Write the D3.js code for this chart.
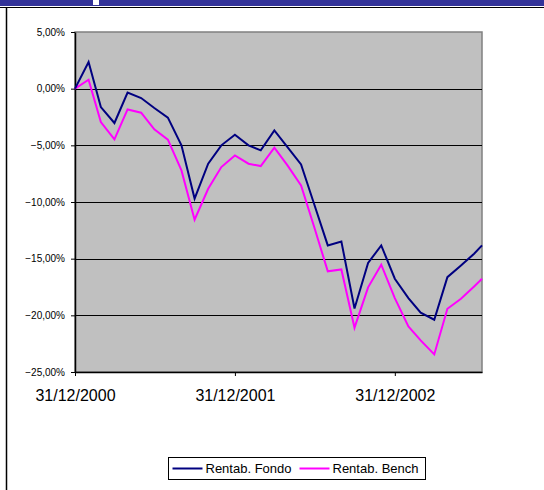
<!DOCTYPE html>
<html>
<head>
<meta charset="utf-8">
<script src="https://cdn.jsdelivr.net/npm/d3@7"></script>
<style>
    body { margin: 0; background: #fff; }
    svg { display: block; font-family: "Liberation Sans", Arial, sans-serif; }
</style>
</head>
<body>
<svg id="chart" width="544" height="490"></svg>
<script>
// month-end dates, last one is a mid-month value
const dates = [
    "2000-12-31", "2001-01-31", "2001-02-28", "2001-03-31", "2001-04-30", "2001-05-31",
    "2001-06-30", "2001-07-31", "2001-08-31", "2001-09-30", "2001-10-31", "2001-11-30",
    "2001-12-31", "2002-01-31", "2002-02-28", "2002-03-31", "2002-04-30", "2002-05-31",
    "2002-06-30", "2002-07-31", "2002-08-31", "2002-09-30", "2002-10-31", "2002-11-30",
    "2002-12-31", "2003-01-31", "2003-02-28", "2003-03-31", "2003-04-30", "2003-05-31",
    "2003-06-30", "2003-07-18"
];
const fondo = [
    0, 2.35, -1.62, -3.03, -0.35, -0.83, -1.71, -2.56, -5.0, -9.7, -6.62, -5.0,
    -4.06, -5.0, -5.44, -3.68, -5.15, -6.68, -10.2, -13.83, -13.48, -19.4, -15.38, -13.83,
    -16.77, -18.48, -19.77, -20.39, -16.63, -15.6, -14.56, -13.83
];
const bench = [
    0, 0.79, -2.95, -4.47, -1.83, -2.12, -3.59, -4.5, -7.21, -11.56, -8.83, -6.92,
    -5.89, -6.62, -6.83, -5.21, -6.77, -8.53, -12.21, -16.12, -15.95, -21.09, -17.53, -15.53,
    -18.48, -20.98, -22.21, -23.45, -19.42, -18.54, -17.45, -16.77
];
const seriesNames = ["Rentab. Fondo", "Rentab. Bench"];
const seriesColors = ["#000080", "#FF00FF"];
const yTicks = [5, 0, -5, -10, -15, -20, -25];
const xTicks = ["2000-12-31", "2001-12-31", "2002-12-31"];

const svg = d3.select("#chart");
const parseDate = d3.timeParse("%Y-%m-%d");
const fmtDate = d3.timeFormat("%d/%m/%Y");
const fmtPct = v => d3.format(".2f")(v).replace(".", ",") + "%";

const plot = { left: 75, right: 482, top: 32, bottom: 372 };

// header band and frame
svg.append("rect").attr("x", 0).attr("y", 0).attr("width", 544).attr("height", 6).attr("fill", "#333399");
svg.append("rect").attr("x", 93).attr("y", 0).attr("width", 6).attr("height", 5).attr("fill", "#fff");
svg.append("line").attr("x1", 0).attr("x2", 544).attr("y1", 7.5).attr("y2", 7.5)
    .attr("stroke", "#000").attr("stroke-width", 1);
svg.append("line").attr("x1", 6.5).attr("x2", 6.5).attr("y1", 8).attr("y2", 490)
    .attr("stroke", "#000").attr("stroke-width", 1.5);

const x = d3.scaleTime()
    .domain([parseDate(dates[0]), parseDate(dates[dates.length - 1])])
    .range([plot.left, plot.right]);
const y = d3.scaleLinear().domain([-25, 5]).range([plot.bottom, plot.top]);

// plot area
svg.append("rect")
    .attr("x", plot.left).attr("y", plot.top)
    .attr("width", plot.right - plot.left).attr("height", plot.bottom - plot.top)
    .attr("fill", "#C0C0C0").attr("stroke", "#808080").attr("stroke-width", 1.5);

svg.append("g").selectAll("line")
    .data(yTicks.filter(d => d !== 5 && d !== -25))
    .join("line")
    .attr("x1", plot.left).attr("x2", plot.right)
    .attr("y1", d => Math.round(y(d)) + 0.5).attr("y2", d => Math.round(y(d)) + 0.5)
    .attr("stroke", "#000").attr("stroke-width", 1);

// axes
const yAxis = d3.axisLeft(y).tickValues(yTicks).tickFormat(fmtPct)
    .tickSize(4).tickSizeOuter(0).tickPadding(6);
const yG = svg.append("g").attr("transform", `translate(${plot.left},0)`).call(yAxis);
yG.selectAll("text").attr("font-size", 10).attr("fill", "#000").attr("font-family", "Liberation Sans, Arial, sans-serif");
yG.select(".domain").attr("stroke", "#000").attr("stroke-width", 1.5);
yG.selectAll(".tick line").attr("stroke", "#000");

const xAxis = d3.axisBottom(x).tickValues(xTicks.map(parseDate)).tickFormat(fmtDate)
    .tickSize(4).tickSizeOuter(0).tickPadding(14);
const xG = svg.append("g").attr("transform", `translate(0,${plot.bottom})`).call(xAxis);
xG.selectAll("text").attr("font-size", 16).attr("fill", "#000").attr("font-family", "Liberation Sans, Arial, sans-serif");
xG.select(".domain").attr("stroke", "#000").attr("stroke-width", 1.5);
xG.selectAll(".tick line").attr("stroke", "#000");

// series
const series = [fondo, bench].map((vals, i) => ({
    name: seriesNames[i],
    color: seriesColors[i],
    values: vals.map((v, j) => ({ date: parseDate(dates[j]), value: v }))
}));

const line = d3.line().x(d => x(d.date)).y(d => y(d.value));

svg.append("g").selectAll("path")
    .data(series.slice().reverse())
    .join("path")
    .attr("d", d => line(d.values))
    .attr("fill", "none")
    .attr("stroke", d => d.color)
    .attr("stroke-width", 2)
    .attr("stroke-linejoin", "miter");

// legend
const legend = svg.append("g").attr("transform", "translate(168.5,457.5)");
legend.append("rect").attr("width", 257).attr("height", 22)
    .attr("fill", "#fff").attr("stroke", "#000").attr("stroke-width", 1);
const item = legend.selectAll(".item")
    .data(series)
    .join("g")
    .attr("class", "item")
    .attr("transform", (d, i) => `translate(${4 + i * 127},11)`);
item.append("line").attr("x1", 0).attr("x2", 30)
    .attr("stroke", d => d.color).attr("stroke-width", 2);
item.append("text").attr("x", 33).attr("dy", "0.35em")
    .attr("font-size", 13).attr("fill", "#000")
    .text(d => d.name);
</script>
</body>
</html>
